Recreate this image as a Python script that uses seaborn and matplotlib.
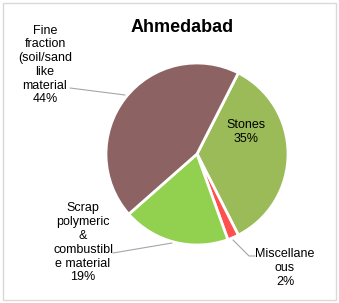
import matplotlib
matplotlib.use("Agg")
import matplotlib.pyplot as plt
import seaborn as sns
from matplotlib.patches import Rectangle

sns.set_theme(style="white")
plt.rcParams['font.family'] = ['Liberation Sans', 'DejaVu Sans']

categories = ["Stones", "Miscellaneous", "Scrap polymeric & combustible material",
              "Fine fraction (soil/sand like material"]
values = [35, 2, 19, 44]
label_texts = ["Stones\n35%", "Miscellane\nous\n2%",
               "Scrap\npolymeric\n&\ncombustibl\ne material\n19%",
               "Fine\nfraction\n(soil/sand\nlike\nmaterial\n44%"]
colors = ["#9BBB59", "#FF4F4F", "#92D050", "#8C6262"]

W, H = 339, 303
fig = plt.figure(figsize=(W / 100, H / 100), dpi=100)
ax = fig.add_axes([0, 0, 1, 1])

cx, cy, r = 197, H - 154, 91
wedges, _ = ax.pie(values, colors=colors, startangle=63, counterclock=False,
                   center=(cx, cy), radius=r, explode=[0.018] * 4,
                   wedgeprops=dict(edgecolor="white", linewidth=2.0))
ax.set_xlim(0, W)
ax.set_ylim(0, H)
ax.set_aspect('equal')
ax.axis('off')

ax.add_patch(Rectangle((3, 3), W - 6, H - 6, fill=False, edgecolor="#D9D9D9", lw=1))

ax.text(182, H - 27, "Ahmedabad", ha="center", va="center", fontsize=13,
        fontweight="bold", color="black")

lab_pos = [(246, 132), (285, 268), (83, 243), (45, 65)]
for txt, (x, y) in zip(label_texts, lab_pos):
    ax.text(x, H - y, txt, ha="center", va="center", fontsize=9,
            color="black", linespacing=1.2)

lc = "#A6A6A6"
ax.plot([70, 125], [H - 88, H - 95], color=lc, lw=0.8)
ax.plot([113, 172], [H - 253, H - 243], color=lc, lw=0.8)
ax.plot([233, 249, 255], [H - 240, H - 256, H - 256], color=lc, lw=0.8)

fig.savefig("out.png", dpi=100, facecolor="white")
